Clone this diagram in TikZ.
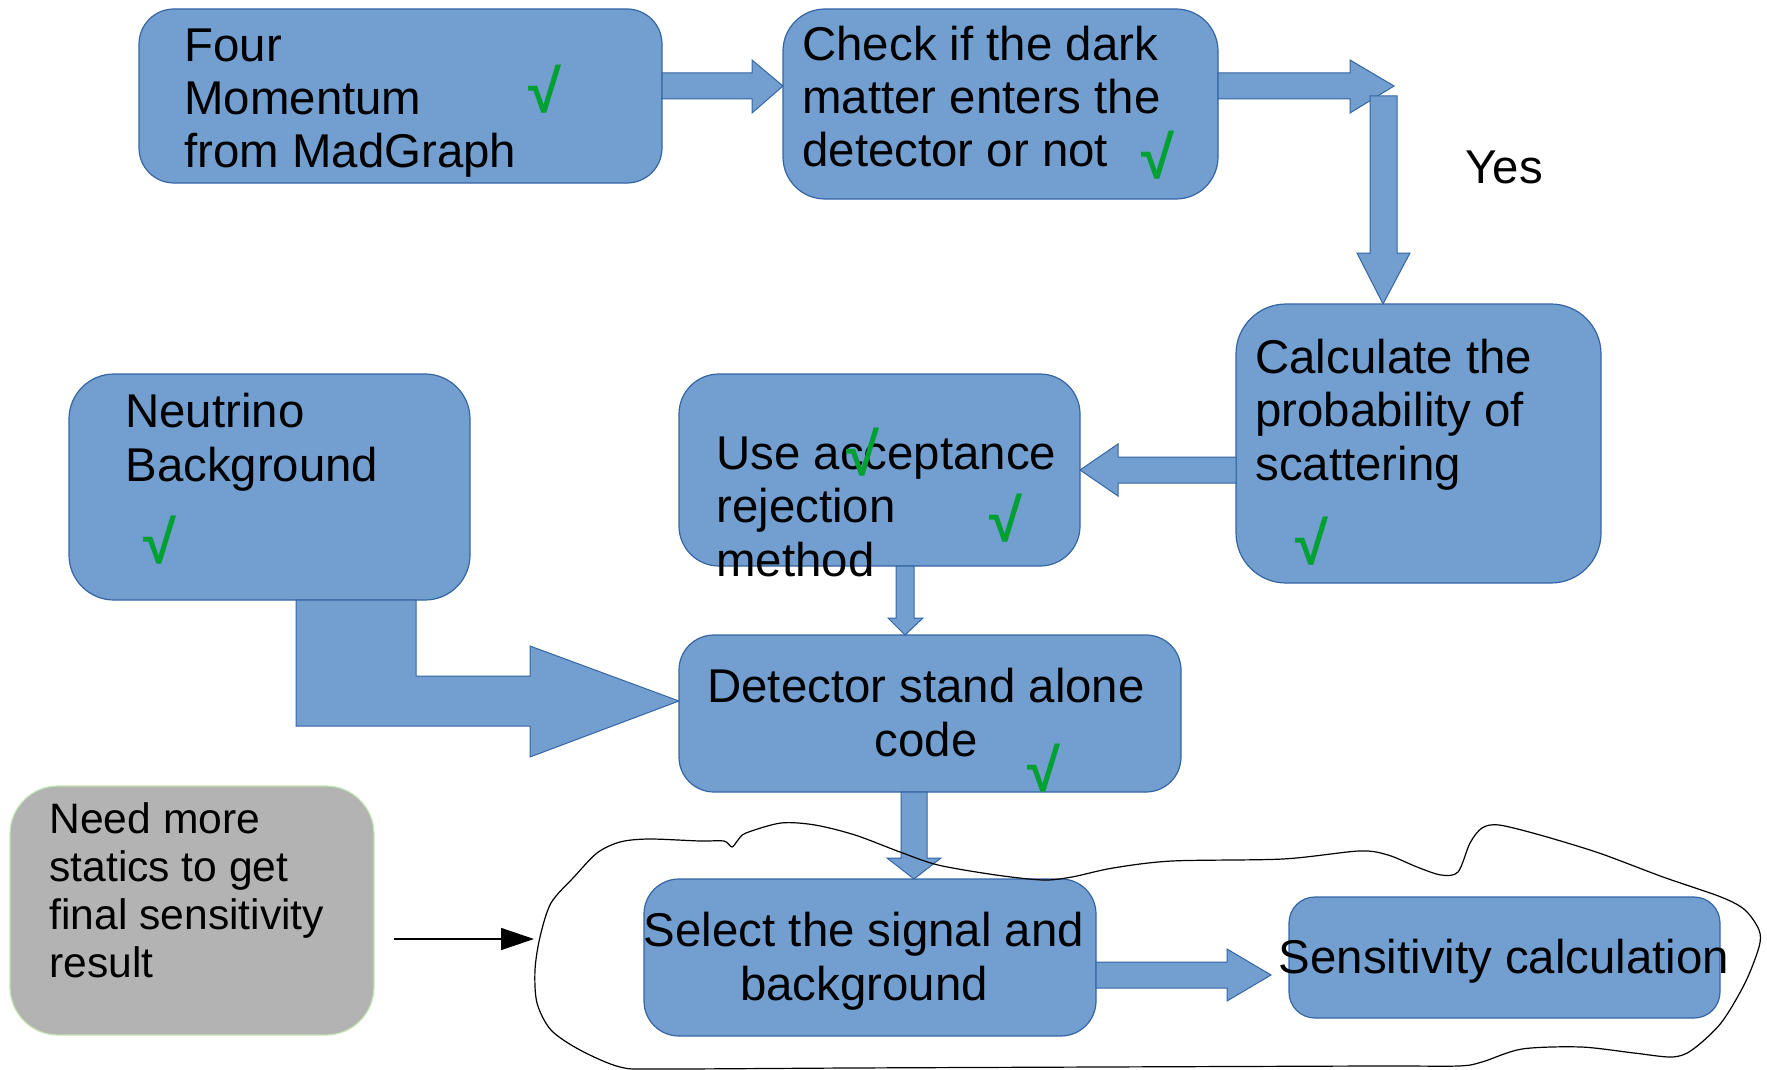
\documentclass[tikz,border=0pt]{standalone}
\usepackage{fontspec}
\setmainfont{Liberation Sans}
\usetikzlibrary{calc,arrows.meta}
\definecolor{boxfill}{HTML}{729FCF}
\definecolor{boxline}{HTML}{3465A4}
\definecolor{tick}{HTML}{00A033}
\definecolor{grayfill}{HTML}{B3B3B3}
\definecolor{grayline}{HTML}{C5E5B5}
\tikzset{
  bluebox/.style={draw=boxline, fill=boxfill, line width=0.6pt, inner sep=0pt, outer sep=0pt},
  graybox/.style={draw=grayline, fill=grayfill, line width=0.6pt, inner sep=0pt, outer sep=0pt},
  blockarr/.style={draw=boxline, fill=boxfill, line width=0.5pt, line join=miter},
  txt/.style={font=\fontsize{23.7pt}{26.7pt}\selectfont, inner sep=0pt, align=left, anchor=base west},
  ctxt/.style={font=\fontsize{23.7pt}{26.7pt}\selectfont, inner sep=0pt, align=center, anchor=base},
  smalltxt/.style={font=\fontsize{21.3pt}{24pt}\selectfont, inner sep=0pt, align=left, anchor=base west},
  chk/.style={text=tick, font=\fontsize{30pt}{32pt}\selectfont\bfseries, inner sep=0pt},
}
\begin{document}
\begin{tikzpicture}[x=0.5pt, y=-0.5pt]
\useasboundingbox (0,0) rectangle (1767,1070);

% boxes
\node[bluebox, rounded corners=17.5pt, minimum width=261.5pt, minimum height=87pt] (b1) at (400.5,96) {};
\node[bluebox, rounded corners=21pt, minimum width=217.5pt, minimum height=95pt] (b2) at (1000.5,104) {};
\node[bluebox, rounded corners=25pt, minimum width=182.5pt, minimum height=139.5pt] (b3) at (1418.5,443.5) {};
\node[bluebox, rounded corners=20pt, minimum width=200.5pt, minimum height=96pt] (b4) at (879.5,470) {};
\node[bluebox, rounded corners=22.5pt, minimum width=200.5pt, minimum height=113pt] (bN) at (269.5,487) {};
\node[bluebox, rounded corners=17.5pt, minimum width=251pt, minimum height=78.5pt] (b5) at (930,713.5) {};
\node[bluebox, rounded corners=17.5pt, minimum width=226pt, minimum height=78.5pt] (b6) at (870,957.5) {};
\node[bluebox, rounded corners=13pt, minimum width=215.5pt, minimum height=60.5pt] (b7) at (1504.5,957.5) {};
\node[graybox, rounded corners=24pt, minimum width=182pt, minimum height=124.5pt] (gb) at (192,910.5) {};

% free ends
\coordinate (turn) at (1394,86);
\coordinate (a8tip) at (1271,975);
\coordinate (nstart) at (394,939);
\coordinate (nend) at (534,939);

% block arrows
\draw[blockarr] (b1.east |- 0,73) -- (752,73) -- (752,60) -- (b2.west |- 0,86) -- (752,113) -- (752,99) -- (b1.east |- 0,99) -- cycle;
\draw[blockarr] (b2.east |- 0,73) -- (1350,73) -- (1350,60) -- (turn) -- (1350,113) -- (1350,99) -- (b2.east |- 0,99) -- cycle;
\draw[blockarr] (1370,96) -- (1370,253) -- (1357,253) -- (1383,0 |- b3.north) -- (1410,253) -- (1397,253) -- (1397,96) -- cycle;
\draw[blockarr] (b3.west |- 0,457) -- (1118,457) -- (1118,444) -- (b4.east |- 0,470) -- (1118,496) -- (1118,483) -- (b3.west |- 0,483) -- cycle;
\draw[blockarr] (896,0 |- b4.south) -- (896,618) -- (888,618) -- (905,0 |- b5.north) -- (923,618) -- (914,618) -- (914,0 |- b4.south) -- cycle;
\draw[blockarr] (296,0 |- bN.south) -- (416,0 |- bN.south) -- (416,676) -- (530,676) -- (530,646) -- (b5.west |- 0,701) -- (530,757) -- (530,726) -- (296,726) -- cycle;
\draw[blockarr] (901,0 |- b5.south) -- (901,858) -- (887,858) -- (914,0 |- b6.north) -- (941,858) -- (927,858) -- (927,0 |- b5.south) -- cycle;
\draw[blockarr] (b6.east |- 0,962) -- (1227,962) -- (1227,949) -- (a8tip) -- (1227,1001) -- (1227,988) -- (b6.east |- 0,988) -- cycle;

% texts (anchor = baseline of last line)
\node[txt] (t1) at (184,168) {Four\\Momentum\\from MadGraph};
\node[txt] (t2) at (802,167) {Check if the dark\\matter enters the\\detector or not};
\node[txt] (yes) at (1465,184) {Yes};
\node[txt] (t3) at (1255,480) {Calculate the\\probability of\\scattering};
\node[txt] (t4) at (716,576) {Use acceptance\\rejection\\method};
\node[txt] (tN) at (125,481) {Neutrino\\Background};
\node[ctxt] (t5) at (926,756) {Detector stand alone\\code};
\node[ctxt] (t6) at (864,1000) {Select the signal and\\background};
\node[ctxt] (t7) at (1504,973) {Sensitivity calculation};
\node[smalltxt] (tg) at (49,977) {Need more\\statics to get\\final sensitivity\\result};

% ticks
\node[chk] (c1) at (545,89) {√};
\node[chk] (c2) at (1158,155) {√};
\node[chk] (c3) at (1312,541) {√};
\node[chk] (c4a) at (863,452) {√};
\node[chk] (c4b) at (1006,518) {√};
\node[chk] (cN) at (160,540) {√};
\node[chk] (c5) at (1044,768) {√};

% thin arrow
\draw[-{Triangle[length=16.5pt,width=11pt]}, line width=0.75pt] (nstart) -- (nend);

% free-hand outline
\draw[line width=0.6pt] plot[smooth cycle, tension=0.5] coordinates {
(746,833) (781,823) (815,825) (855,835) (900,852) (938,865) (996,875) (1043,880) (1072,877) (1113,868) (1172,861) (1283,859) (1359,851) (1388,855) (1417,867) (1441,875) (1458,872) (1470,843) (1482,828) (1499,825) (1540,835) (1599,853) (1663,877) (1721,897) (1745,910) (1759,930) (1759,947) (1745,983) (1721,1023) (1692,1050) (1672,1057) (1634,1053) (1581,1047) (1522,1049) (1482,1062) (1458,1066) (1376,1066) (1100,1067) (850,1068) (660,1069) (620,1067) (580,1050) (551,1030) (537,1003) (535,970) (540,937) (551,903) (574,877) (597,853) (620,842) (649,839) (700,841) (724,841) (732,847) (738,840)};
\end{tikzpicture}
\end{document}
